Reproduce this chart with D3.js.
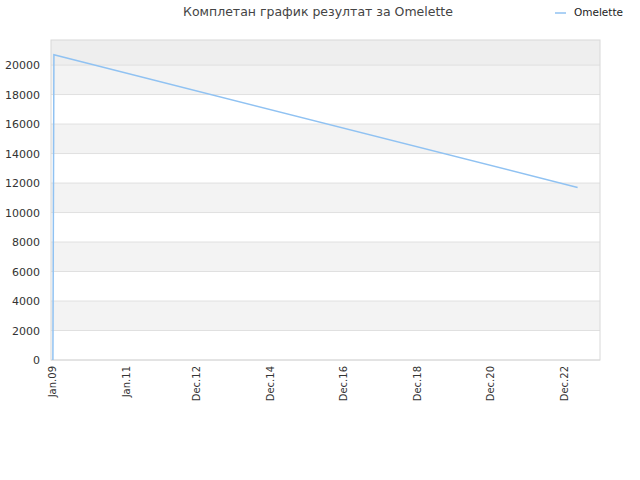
<!DOCTYPE html><html><head><meta charset="utf-8"><script src="https://cdn.jsdelivr.net/npm/d3@7"></script>
<style>body{margin:0;background:#fff}text{font-family:"DejaVu Sans",sans-serif}</style></head><body><svg width="640" height="480"></svg><script>
const dates=["2009-01-10","2009-01-20","2023-04-15"];
const values=[0,20700,11700];
const tickDates=["2009-01-01","2011-01-01","2012-12-01","2014-12-01","2016-12-01","2018-12-01","2020-12-01","2022-12-01"];
const tickLabels=["Jan.09","Jan.11","Dec.12","Dec.14","Dec.16","Dec.18","Dec.20","Dec.22"];
const yTicks=[0,2000,4000,6000,8000,10000,12000,14000,16000,18000,20000];
const p=d3.timeParse("%Y-%m-%d");
const svg=d3.select("svg");
const L=51,R=600,T=40,B=360;
const x=d3.scaleTime().domain([p("2009-01-01"),p("2022-12-01")]).range([52,564]);
const y=d3.scaleLinear().domain([0,21700]).range([B,T]);
for(let i=0;i<yTicks.length;i++){const lo=yTicks[i],hi=i+1<yTicks.length?yTicks[i+1]:21700;
 svg.append("rect").attr("x",L).attr("width",R-L).attr("y",y(hi)).attr("height",y(lo)-y(hi))
 .attr("fill",i==yTicks.length-1?"#eeeeee":(i%2?"#f3f3f3":"#fff"));}
yTicks.forEach(v=>svg.append("line").attr("x1",L).attr("x2",R).attr("y1",y(v)).attr("y2",y(v)).attr("stroke","#e0e0e0"));
svg.append("rect").attr("x",L).attr("y",T).attr("width",R-L).attr("height",B-T).attr("fill","none").attr("stroke","#d8d8d8");
yTicks.forEach(v=>svg.append("text").attr("x",L-11).attr("y",y(v)+4).attr("text-anchor","end").attr("font-size",11).attr("fill","#333").text(v));
tickDates.forEach((d,i)=>svg.append("text").attr("transform",`translate(${x(p(d))+4},${B+6}) rotate(-90)`).attr("text-anchor","end").attr("font-size",10).attr("fill","#333").text(tickLabels[i]));
const data=dates.map((d,i)=>[x(p(d)),y(values[i])]);
svg.append("path").attr("d",d3.line()(data)).attr("fill","none").attr("stroke","#90c2f2").attr("stroke-width",1.5);
svg.append("text").attr("x",318).attr("y",16).attr("text-anchor","middle").attr("font-size",12.5).attr("fill","#444").text("Комплетан график резултат за Omelette");
svg.append("line").attr("x1",555).attr("x2",566).attr("y1",13).attr("y2",13).attr("stroke","#90c2f2").attr("stroke-width",1.5);
svg.append("text").attr("x",574).attr("y",16).attr("font-size",10.5).attr("fill","#222").text("Omelette");
</script></body></html>
